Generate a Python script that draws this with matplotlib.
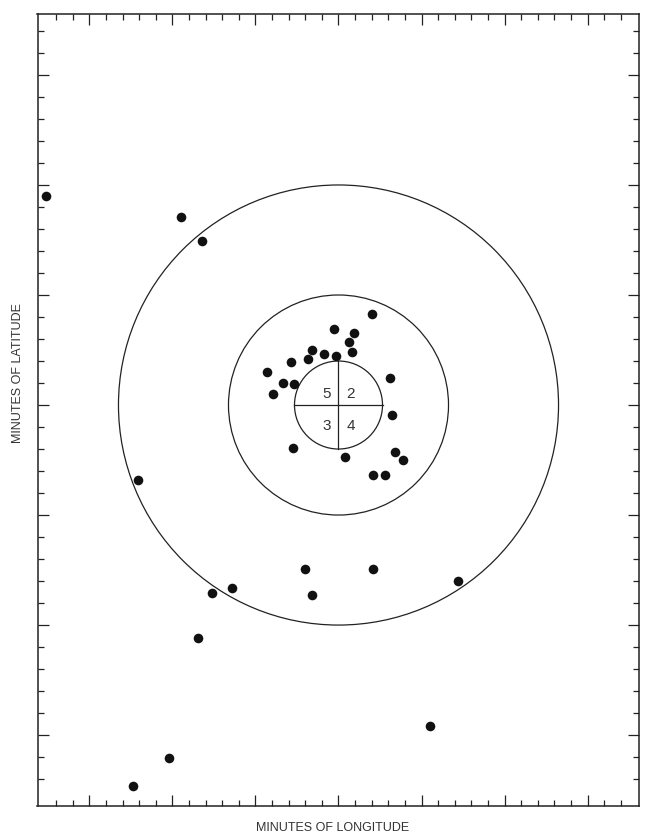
import numpy as np
import matplotlib.pyplot as plt
from matplotlib.patches import Ellipse

# Data: plotted positions in minutes (longitude, latitude) from the target centre
lon = [-17.62, -9.47, -8.24, -12.06, -7.62, -6.40, -8.46, -10.23, -12.36,
       5.53, 7.22, 2.06, -2.00, -1.60,
       2.02, -0.29, 0.92, 0.63, 0.80, -1.60, -0.86, -0.15, -1.86, -2.86,
       -4.31, -3.36, -2.66, -3.95, 3.10, 3.22, -2.72, 0.37, 3.42, 3.87,
       2.08, 2.78]
lat = [9.51, 8.56, 7.47, -3.40, -8.53, -8.30, -10.60, -16.06, -17.30,
       -14.59, -8.01, -7.44, -7.47, -8.62,
       4.14, 3.45, 3.29, 2.88, 2.42, 2.51, 2.32, 2.24, 2.09, 1.94,
       1.49, 1.00, 0.95, 0.49, 1.21, -0.45, -1.94, -2.38, -2.15, -2.50,
       -3.17, -3.17]

ring_radii = [2, 5, 10]          # minutes of latitude
quadrant_labels = ['5', '2', '3', '4']
quadrant_pos = [(-0.69, 0.55), (0.73, 0.55), (-0.69, -0.91), (0.73, -0.91)]

# one minute of latitude is longer on the page than one of longitude
k = 22.0 / 16.6

fig = plt.figure(figsize=(6.45, 8.37), dpi=100)
ax = fig.add_axes([37.5 / 645, 1 - 806.5 / 837, (639 - 37.5) / 645, (806.5 - 15) / 837])
ax.set_xlim(-18.13, 18.10)
ax.set_ylim(-18.2, 17.77)

ink = '#222222'

# rings
for r in ring_radii:
    ax.add_patch(Ellipse((0, 0), 2 * r * k, 2 * r, fill=False, ec=ink, lw=0.9))

# cross in the inner ring
r0 = ring_radii[0]
ax.plot([0, 0], [-r0, r0], color=ink, lw=0.9)
ax.plot([-r0 * k, r0 * k], [0, 0], color=ink, lw=0.9)

for lab, (x, y) in zip(quadrant_labels, quadrant_pos):
    ax.text(x, y, lab, ha='center', va='center', fontsize=11,
            family='Liberation Sans', color='#333333')

# points
ax.scatter(lon, lat, s=48, color='#111111', zorder=3, linewidths=0)

# ticks pointing inwards on all sides
ax.set_xticks(np.arange(-15, 20, 5))
ax.set_xticks(np.arange(-17, 18, 1), minor=True)
ax.set_yticks(np.arange(-15, 20, 5))
ax.set_yticks(np.arange(-17, 18, 1), minor=True)
ax.tick_params(which='both', direction='in', top=True, right=True,
               labelbottom=False, labelleft=False, color=ink, width=0.9)
ax.tick_params(which='major', length=8)
ax.tick_params(which='minor', length=4.5)
for sp in ax.spines.values():
    sp.set_linewidth(1.1)
    sp.set_color(ink)

fig.text(333 / 645, 1 - 828 / 837, 'MINUTES OF LONGITUDE', ha='center', va='center',
         fontsize=9, family='Liberation Sans', color='#333333')
fig.text(18 / 645, 1 - 373 / 837, 'MINUTES OF LATITUDE', ha='center', va='center',
         rotation=90, fontsize=9, family='Liberation Sans', color='#333333')

fig.savefig('out.png', dpi=100)
